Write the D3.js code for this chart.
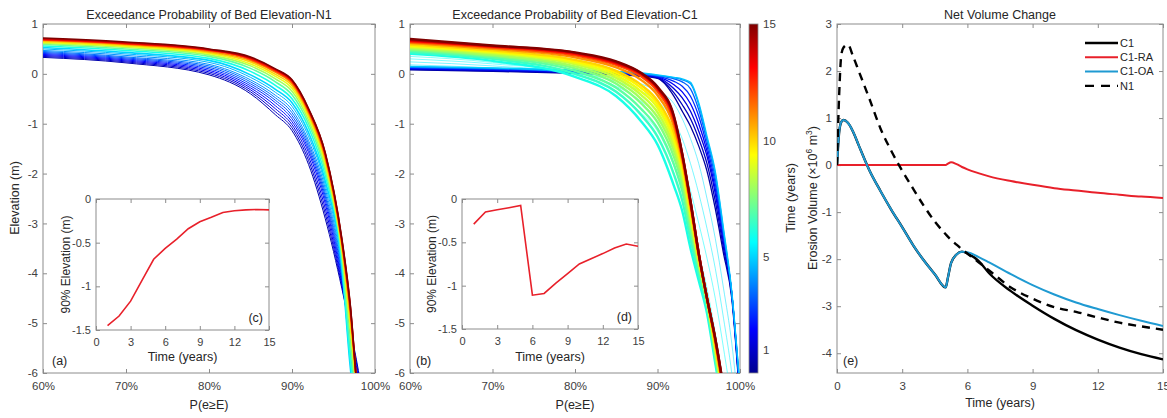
<!DOCTYPE html>
<html>
<head>
<meta charset="utf-8">
<script src="https://cdn.jsdelivr.net/npm/d3@7/dist/d3.min.js"></script>
<style>
  body { margin: 0; background: #fff; }
  svg { display: block; font-family: "Liberation Sans", Arial, sans-serif; }
</style>
</head>
<body>
<div id="chart"></div>
<script>
// ---------- data ----------
// panel (a): exceedance curves N1, elevation (m) at each probability (%)
const pGridA = [60, 70, 80, 85, 88, 90, 92, 94, 96, 97, 98, 99];
const timesA = [0.5, 1, 1.5, 2, 2.5, 3, 3.5, 4, 4.5, 5, 6, 7, 8, 9, 10, 11, 12, 13, 14, 15];
const elevA = [
  [0.33, 0.22, -0.02, -0.40, -0.82, -1.14, -1.82, -2.90, -4.30, -5.10, -5.95, -7.0],
  [0.35, 0.24, 0.01, -0.36, -0.76, -1.08, -1.74, -2.80, -4.25, -5.12, -6.02, -7.1],
  [0.37, 0.26, 0.04, -0.32, -0.70, -1.02, -1.66, -2.70, -4.20, -5.15, -6.10, -7.2],
  [0.39, 0.28, 0.07, -0.28, -0.64, -0.96, -1.58, -2.60, -4.15, -5.20, -6.20, -7.3],
  [0.41, 0.30, 0.10, -0.24, -0.58, -0.90, -1.52, -2.52, -4.10, -5.28, -6.30, -7.4],
  [0.43, 0.32, 0.13, -0.20, -0.53, -0.84, -1.46, -2.45, -4.05, -5.36, -6.45, -7.5],
  [0.45, 0.34, 0.16, -0.16, -0.48, -0.78, -1.40, -2.38, -4.00, -5.45, -6.60, -7.6],
  [0.47, 0.37, 0.19, -0.12, -0.43, -0.72, -1.34, -2.30, -3.95, -5.55, -6.80, -7.8],
  [0.50, 0.40, 0.23, -0.07, -0.37, -0.65, -1.26, -2.22, -3.90, -5.70, -7.00, -8.0],
  [0.53, 0.43, 0.27, -0.02, -0.31, -0.58, -1.18, -2.14, -3.85, -5.85, -7.20, -8.0],
  [0.56, 0.47, 0.31, 0.05, -0.23, -0.50, -1.08, -2.04, -3.75, -5.70, -7.00, -8.0],
  [0.59, 0.50, 0.35, 0.11, -0.16, -0.42, -1.00, -1.94, -3.65, -5.40, -6.90, -8.0],
  [0.61, 0.53, 0.38, 0.16, -0.10, -0.35, -0.93, -1.86, -3.57, -5.15, -6.80, -8.0],
  [0.63, 0.55, 0.41, 0.20, -0.05, -0.29, -0.87, -1.79, -3.50, -5.00, -6.70, -8.0],
  [0.65, 0.57, 0.43, 0.24, -0.01, -0.24, -0.82, -1.73, -3.45, -4.88, -6.65, -8.0],
  [0.67, 0.59, 0.45, 0.27, 0.03, -0.20, -0.78, -1.68, -3.40, -4.78, -6.60, -8.0],
  [0.68, 0.60, 0.47, 0.29, 0.05, -0.17, -0.75, -1.64, -3.37, -4.70, -6.60, -8.0],
  [0.69, 0.61, 0.48, 0.31, 0.07, -0.15, -0.73, -1.61, -3.34, -4.65, -6.60, -8.0],
  [0.705, 0.625, 0.49, 0.325, 0.09, -0.13, -0.71, -1.59, -3.32, -4.62, -6.60, -8.0],
  [0.72, 0.64, 0.50, 0.34, 0.10, -0.12, -0.70, -1.58, -3.30, -4.60, -6.60, -8.0]
];

// panel (b): exceedance curves C1
const pGridB = [60, 70, 80, 85, 88, 90, 92, 93, 94, 95, 96, 97, 98, 99, 100];
const timesB = [0.25, 0.75, 1.25, 1.75, 2.5, 3.25, 4, 4.75,
                5.2, 5.4, 5.6, 5.8,
                6, 6.5, 7, 7.5, 8, 8.5, 9, 9.5, 10, 11, 12, 13, 14, 15];
const elevB = [
  [0.08, 0.05, 0.01, -0.02, -0.05, -0.09, -0.45, -0.75, -1.05, -1.45, -1.95, -2.70, -3.60, -4.50, -6.60],
  [0.09, 0.06, 0.02, -0.01, -0.04, -0.08, -0.38, -0.62, -0.90, -1.30, -1.80, -2.55, -3.50, -4.45, -6.55],
  [0.10, 0.07, 0.03, 0.00, -0.03, -0.07, -0.30, -0.48, -0.75, -1.15, -1.65, -2.40, -3.40, -4.40, -6.50],
  [0.11, 0.08, 0.04, 0.01, -0.02, -0.06, -0.22, -0.36, -0.60, -1.00, -1.55, -2.30, -3.30, -4.40, -6.50],
  [0.12, 0.09, 0.05, 0.02, -0.01, -0.05, -0.15, -0.25, -0.45, -0.85, -1.45, -2.20, -3.25, -4.40, -6.40],
  [0.13, 0.10, 0.06, 0.03, 0.00, -0.04, -0.10, -0.16, -0.30, -0.72, -1.35, -2.10, -3.20, -4.40, -6.40],
  [0.14, 0.11, 0.07, 0.04, 0.01, -0.03, -0.08, -0.12, -0.20, -0.62, -1.30, -2.00, -3.15, -4.40, -6.30],
  [0.15, 0.12, 0.08, 0.05, 0.02, -0.02, -0.07, -0.10, -0.17, -0.58, -1.25, -1.95, -3.10, -4.35, -6.30],
  [0.18, 0.12, 0.02, -0.08, -0.20, -0.35, -0.60, -0.90, -1.30, -1.80, -2.50, -3.30, -4.30, -5.40, -7.0],
  [0.24, 0.16, 0.02, -0.15, -0.35, -0.55, -0.95, -1.30, -1.80, -2.40, -3.10, -3.90, -4.90, -6.00, -7.5],
  [0.30, 0.20, 0.02, -0.25, -0.55, -0.85, -1.40, -1.80, -2.35, -3.00, -3.70, -4.50, -5.50, -6.60, -8.0],
  [0.35, 0.23, -0.02, -0.38, -0.78, -1.15, -1.85, -2.30, -2.90, -3.60, -4.30, -5.20, -6.20, -7.30, -8.5],
  [0.40, 0.26, -0.06, -0.45, -0.95, -1.42, -2.25, -2.75, -3.50, -4.15, -4.80, -5.80, -6.80, -8.0, -9.0],
  [0.43, 0.30, 0.00, -0.36, -0.82, -1.26, -2.02, -2.54, -3.32, -4.02, -4.70, -5.72, -6.75, -8.0, -9.0],
  [0.46, 0.33, 0.06, -0.28, -0.70, -1.10, -1.82, -2.35, -3.15, -3.90, -4.60, -5.65, -6.70, -8.0, -9.0],
  [0.49, 0.36, 0.11, -0.20, -0.59, -0.97, -1.67, -2.21, -3.04, -3.84, -4.57, -5.60, -6.65, -8.0, -9.0],
  [0.51, 0.38, 0.15, -0.14, -0.50, -0.87, -1.55, -2.10, -2.95, -3.80, -4.55, -5.55, -6.60, -8.0, -9.0],
  [0.53, 0.41, 0.19, -0.08, -0.42, -0.77, -1.45, -2.00, -2.87, -3.76, -4.53, -5.51, -6.55, -7.9, -9.0],
  [0.55, 0.43, 0.22, -0.03, -0.35, -0.68, -1.35, -1.92, -2.80, -3.72, -4.52, -5.48, -6.50, -7.8, -9.0],
  [0.57, 0.45, 0.25, 0.02, -0.28, -0.61, -1.26, -1.86, -2.75, -3.70, -4.51, -5.45, -6.47, -7.75, -9.0],
  [0.59, 0.47, 0.28, 0.06, -0.22, -0.54, -1.18, -1.80, -2.70, -3.68, -4.50, -5.42, -6.45, -7.7, -9.0],
  [0.62, 0.50, 0.33, 0.13, -0.12, -0.43, -1.06, -1.72, -2.64, -3.65, -4.50, -5.38, -6.40, -7.6, -9.0],
  [0.64, 0.53, 0.37, 0.18, -0.05, -0.35, -0.97, -1.67, -2.60, -3.62, -4.50, -5.34, -6.36, -7.6, -9.0],
  [0.66, 0.55, 0.40, 0.21, -0.01, -0.30, -0.91, -1.63, -2.57, -3.61, -4.50, -5.32, -6.33, -7.5, -9.0],
  [0.68, 0.56, 0.42, 0.23, 0.01, -0.28, -0.87, -1.61, -2.56, -3.60, -4.50, -5.31, -6.31, -7.5, -9.0],
  [0.70, 0.57, 0.43, 0.25, 0.02, -0.26, -0.85, -1.60, -2.55, -3.60, -4.50, -5.30, -6.30, -7.5, -9.0]
];

// insets (c) and (d): 90% elevation per year
const yearsCD = [1, 2, 3, 4, 5, 6, 7, 8, 9, 10, 11, 12, 13, 14, 15];
const elev90N1 = [-1.45, -1.34, -1.17, -0.93, -0.69, -0.565, -0.46, -0.34, -0.26, -0.21, -0.155, -0.135, -0.125, -0.12, -0.125];
const elev90C1 = [-0.29, -0.15, -0.125, -0.10, -0.075, -1.11, -1.09, -0.97, -0.86, -0.75, -0.69, -0.63, -0.565, -0.52, -0.545];

// panel (e): net volume change (x10^6 m3)
const timeE = [0, 0.1, 0.2, 0.3, 0.5, 0.75, 1, 1.5, 2, 2.5, 3, 3.5, 4, 4.5, 5, 5.1, 5.25, 5.5, 5.75, 6, 6.5, 7, 8, 9, 10, 11, 12, 13, 14, 15];
const volC1 = [0, 0.7, 0.92, 0.96, 0.9, 0.7, 0.42, -0.12, -0.55, -0.95, -1.32, -1.7, -2.03, -2.32, -2.6, -2.4, -2.08, -1.9, -1.84, -1.88, -2.03, -2.3, -2.68, -2.99, -3.27, -3.51, -3.71, -3.88, -4.02, -4.13];
const volC1RA = [0, 0, 0, 0, 0, 0, 0, 0, 0, 0, 0, 0, 0, 0, 0, 0.03, 0.06, 0.02, -0.04, -0.09, -0.17, -0.24, -0.34, -0.42, -0.49, -0.54, -0.59, -0.63, -0.67, -0.70];
const volC1OA = [0, 0.7, 0.92, 0.96, 0.9, 0.7, 0.42, -0.12, -0.55, -0.95, -1.32, -1.7, -2.03, -2.32, -2.6, -2.4, -2.08, -1.9, -1.84, -1.85, -1.95, -2.07, -2.32, -2.55, -2.75, -2.92, -3.06, -3.19, -3.31, -3.42];
const volN1 = [0, 1.5, 2.35, 2.5, 2.56, 2.3, 2.0, 1.4, 0.78, 0.3, -0.12, -0.5, -0.87, -1.2, -1.47, -1.52, -1.59, -1.69, -1.79, -1.88, -2.06, -2.24, -2.6, -2.84, -3.02, -3.12, -3.24, -3.35, -3.43, -3.5];
const seriesNames = ["C1", "C1-RA", "C1-OA", "N1"];

// ticks
const probTicks = [60, 70, 80, 90, 100];
const elevTicks = [-6, -5, -4, -3, -2, -1, 0, 1];
const yearTicks = [0, 3, 6, 9, 12, 15];
const insetYTicks = [-1.5, -1, -0.5, 0];
const volTicks = [-4, -3, -2, -1, 0, 1, 2, 3];
const cbarTicks = [1, 5, 10, 15];

// ---------- setup ----------
const W = 1167, H = 418;
const axisGrey = "#8c8c8c", textGrey = "#404040";
const svg = d3.select("#chart").append("svg").attr("width", W).attr("height", H);
let clipCount = 0;

// MATLAB style jet colormap on time 0..15
const jet = d3.scaleLinear()
  .domain([0, 1.875, 5.625, 9.375, 13.125, 15])
  .range(["#00008f", "#0000ff", "#00ffff", "#ffff00", "#ff0000", "#800000"]);

// build a boxed axes with inward ticks on all four sides
function makeAxes(box, xDomain, yDomain, xTicks, yTicks, xFmt, fs, xPad, yPad) {
  const w = box.x1 - box.x0, h = box.y1 - box.y0;
  const g = svg.append("g").attr("transform", `translate(${box.x0},${box.y0})`);
  const x = d3.scaleLinear().domain(xDomain).range([0, w]);
  const y = d3.scaleLinear().domain(yDomain).range([h, 0]);

  g.append("rect").attr("width", w).attr("height", h).attr("fill", "#fff");
  const id = "clip" + (clipCount++);
  g.append("clipPath").attr("id", id).append("rect").attr("width", w).attr("height", h);

  const axes = [
    [d3.axisBottom(x).tickValues(xTicks).tickFormat(xFmt).tickPadding(xPad), `translate(0,${h})`],
    [d3.axisTop(x).tickValues(xTicks).tickFormat(""), null],
    [d3.axisLeft(y).tickValues(yTicks).tickFormat(d => String(d)).tickPadding(yPad), null],
    [d3.axisRight(y).tickValues(yTicks).tickFormat(""), `translate(${w},0)`]
  ];
  axes.forEach(([ax, tr]) => {
    const a = g.append("g").call(ax.tickSizeInner(-4).tickSizeOuter(0));
    if (tr) a.attr("transform", tr);
    a.attr("font-family", null).attr("font-size", null);
    a.select(".domain").remove();
    a.selectAll("line").attr("stroke", axisGrey);
    a.selectAll("text").attr("fill", textGrey).style("font-size", fs + "px");
  });
  g.append("rect").attr("width", w).attr("height", h)
    .attr("fill", "none").attr("stroke", axisGrey).attr("stroke-width", 1);

  const plot = g.append("g").attr("clip-path", `url(#${id})`);
  return { g, x, y, w, h, plot };
}

function addText(x, y, str, size, anchor, rotate) {
  const t = svg.append("text")
    .attr("x", x).attr("y", y)
    .attr("text-anchor", anchor || "middle")
    .attr("fill", "#262626")
    .style("font-size", size + "px")
    .text(str);
  if (rotate) t.attr("transform", `rotate(-90,${x},${y})`);
  return t;
}

// draw a family of exceedance curves coloured by time
function drawFamily(ax, grid, times, rows, widthFor, opacityFor) {
  const line = d3.line()
    .x(d => ax.x(d[0]))
    .y(d => ax.y(d[1]))
    .curve(d3.curveMonotoneX);
  times.forEach((t, i) => {
    ax.plot.append("path")
      .datum(grid.map((p, j) => [p, rows[i][j]]))
      .attr("d", line)
      .attr("fill", "none")
      .attr("stroke", jet(t))
      .attr("stroke-opacity", opacityFor ? opacityFor(t) : 1)
      .attr("stroke-width", widthFor(t));
  });
}

function drawInset(box, values, tag) {
  const ax = makeAxes(box, [0, 15], [-1.5, 0], yearTicks, insetYTicks, d => String(d), 11, 8, 5);
  const line = d3.line().x((d, i) => ax.x(yearsCD[i])).y(d => ax.y(d));
  ax.plot.append("path").datum(values).attr("d", line)
    .attr("fill", "none").attr("stroke", "#e8202a").attr("stroke-width", 1.6);
  ax.g.append("text").attr("x", ax.w - 6).attr("y", ax.h - 8)
    .attr("text-anchor", "end").attr("fill", "#262626").style("font-size", "12.5px").text(tag);
  addText((box.x0 + box.x1) / 2, 361, "Time (years)", 12.5);
  addText(box.x0 - 26, (box.y0 + box.y1) / 2, "90% Elevation (m)", 12, "middle", true);
}

const pctFmt = d => d + "%";

// ---------- panel (a) ----------
const axA = makeAxes({ x0: 43, x1: 375, y0: 24, y1: 373 }, [60, 100], [-6, 1], probTicks, elevTicks, pctFmt, 11.5, 9, 5);
drawFamily(axA, pGridA, timesA, elevA, t => (t < 5 ? 1 : 1.6));
addText(209, 19, "Exceedance Probability of Bed Elevation-N1", 12.5);
addText(209, 409, "P(e\u2265E)", 12.5);
addText(19, 198, "Elevation (m)", 12.5, "middle", true);
addText(52, 365, "(a)", 12.5, "start");
drawInset({ x0: 96, x1: 269, y0: 199, y1: 330 }, elev90N1, "(c)");

// ---------- panel (b) ----------
const axB = makeAxes({ x0: 410, x1: 740, y0: 24, y1: 373 }, [60, 100], [-6, 1], probTicks, elevTicks, pctFmt, 11.5, 9, 5);
drawFamily(axB, pGridB, timesB, elevB,
  t => (t < 5 ? 1.3 : t < 6 ? 0.8 : 2.4),
  t => (t > 5 && t < 6 ? 0.65 : 1));
addText(575, 19, "Exceedance Probability of Bed Elevation-C1", 12.5);
addText(575, 409, "P(e\u2265E)", 12.5);
addText(416, 365, "(b)", 12.5, "start");
drawInset({ x0: 462, x1: 638, y0: 199, y1: 329 }, elev90C1, "(d)");

// ---------- colorbar ----------
const cb = { x0: 749, x1: 758, y0: 24, y1: 373 };
const cbY = d3.scaleLinear().domain([0, 15]).range([cb.y1, cb.y0]);
const grad = svg.append("defs").append("linearGradient")
  .attr("id", "jetGrad").attr("x1", 0).attr("y1", 1).attr("x2", 0).attr("y2", 0);
jet.domain().forEach(v => {
  grad.append("stop").attr("offset", v / 15).attr("stop-color", jet(v));
});
svg.append("rect").attr("x", cb.x0).attr("y", cb.y0)
  .attr("width", cb.x1 - cb.x0).attr("height", cb.y1 - cb.y0)
  .attr("fill", "url(#jetGrad)").attr("stroke", axisGrey).attr("stroke-width", 0.8);
const cbAxis = svg.append("g").attr("transform", `translate(${cb.x1},0)`)
  .call(d3.axisRight(cbY).tickValues(cbarTicks).tickSizeInner(0).tickSizeOuter(0).tickPadding(5));
cbAxis.attr("font-family", null).attr("font-size", null);
cbAxis.select(".domain").remove();
cbAxis.selectAll("text").attr("fill", textGrey).style("font-size", "11.5px");
addText(795, 198, "Time (years)", 12.5, "middle", true);

// ---------- panel (e) ----------
const axE = makeAxes({ x0: 837, x1: 1163, y0: 24, y1: 373 }, [0, 15], [-4.42, 3], yearTicks, volTicks, d => String(d), 11.5, 9, 5);
const lineE = d3.line().x((d, i) => axE.x(timeE[i])).y(d => axE.y(d)).curve(d3.curveMonotoneX);
const seriesE = [volC1, volC1RA, volC1OA, volN1];
const colorsE = ["#000000", "#e8202a", "#1f9ad2", "#000000"];
const widthsE = [2.4, 2, 2, 2.4];
const dashesE = [null, null, null, "8,6"];
seriesE.forEach((vals, i) => {
  axE.plot.append("path").datum(vals).attr("d", lineE)
    .attr("fill", "none")
    .attr("stroke", colorsE[i])
    .attr("stroke-width", widthsE[i])
    .attr("stroke-dasharray", dashesE[i]);
});
addText(1000, 19, "Net Volume Change", 12.5);
addText(1000, 407, "Time (years)", 12.5);
addText(843, 365, "(e)", 12.5, "start");
const ylab = addText(817, 198, "Erosion Volume (\u00d710", 12.5, "middle", true);
ylab.append("tspan").attr("dy", -5).style("font-size", "8.5px").text("6");
ylab.append("tspan").attr("dy", 5).text(" m");
ylab.append("tspan").attr("dy", -5).style("font-size", "8.5px").text("3");
ylab.append("tspan").attr("dy", 5).text(")");

// legend
const legend = svg.append("g");
seriesNames.forEach((name, i) => {
  const yy = 43 + i * 14.3;
  legend.append("line")
    .attr("x1", 1085).attr("x2", 1118).attr("y1", yy).attr("y2", yy)
    .attr("stroke", colorsE[i]).attr("stroke-width", widthsE[i])
    .attr("stroke-dasharray", dashesE[i] ? "9,7" : null);
  legend.append("text").attr("x", 1120).attr("y", yy).attr("dy", "0.35em")
    .attr("fill", "#262626").style("font-size", "11px").text(name);
});
</script>
</body>
</html>
